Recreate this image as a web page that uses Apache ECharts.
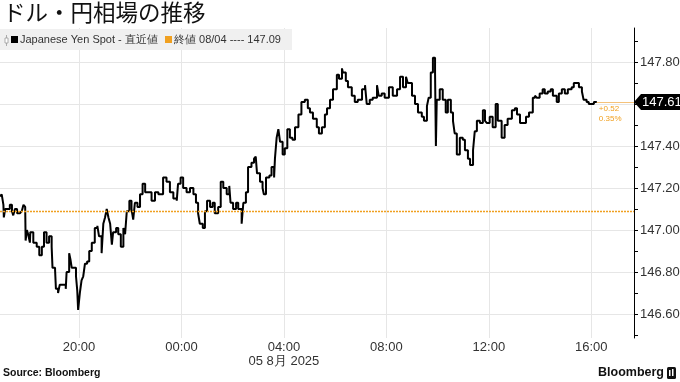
<!DOCTYPE html>
<html><head><meta charset="utf-8">
<script src="https://cdn.jsdelivr.net/npm/echarts@6/dist/echarts.min.js"></script>
<style>html,body{margin:0;padding:0;background:#fff}#c{width:680px;height:382px}</style>
</head><body><div id="c"></div>
<script>
// minutes since 2025-08-04 00:00 (Tokyo)
const times = [1015,1019,1023,1024,1027,1031,1038,1043,1046,1050,1055,1062,1066,1070,1074,1075,1078,1081,1085,1086,1093,1101,1107,1113,1118,1124,1130,1136,1138,1144,1146,1151,1155,1163,1169,1171,1177,1180,1183,1187,1193,1196,1198,1202,1206,1210,1214,1219,1224,1230,1237,1243,1247,1253,1257,1261,1265,1269,1273,1277,1280,1287,1292,1298,1304,1308,1312,1318,1323,1327,1331,1337,1343,1349,1355,1362,1370,1378,1386,1390,1397,1405,1413,1421,1429,1432,1438,1444,1452,1460,1468,1474,1479,1483,1490,1495,1500,1507,1513,1518,1526,1532,1538,1546,1552,1555,1561,1568,1573,1581,1585,1591,1596,1604,1610,1614,1617,1624,1630,1633,1638,1646,1651,1657,1659,1663,1667,1671,1677,1682,1688,1694,1700,1706,1714,1721,1729,1736,1741,1748,1757,1762,1769,1776,1781,1788,1795,1804,1809,1816,1818,1825,1830,1839,1846,1853,1863,1870,1874,1881,1888,1898,1902,1909,1916,1926,1935,1945,1952,1959,1966,1970,1980,1987,1994,2003,2008,2015,2019,2024,2029,2034,2036,2038,2045,2052,2059,2064,2071,2076,2080,2085,2092,2099,2104,2111,2116,2123,2127,2132,2139,2146,2151,2155,2162,2169,2176,2181,2190,2197,2204,2214,2221,2226,2233,2240,2247,2254,2263,2268,2272,2279,2286,2291,2298,2305,2310,2319,2324,2331,2338,2345,2354,2359,2366,2371,2378,2382,2389,2394,2401,2406,2413];
const values = [147.16,147.17,147.12,147.06,147.10,147.10,147.12,147.09,147.07,147.10,147.08,147.08,147.09,147.12,147.11,146.95,147.00,146.98,146.94,146.99,146.94,146.92,146.88,146.92,146.99,146.94,146.97,146.92,146.82,146.81,146.72,146.70,146.74,146.74,146.72,146.80,146.89,146.86,146.82,146.82,146.78,146.71,146.62,146.70,146.76,146.78,146.84,146.85,146.90,146.94,147.01,147.02,146.97,146.89,147.03,147.06,147.10,147.06,147.03,146.93,146.99,147.01,146.98,146.92,147.01,146.98,147.09,147.14,147.10,147.05,147.13,147.11,147.17,147.22,147.18,147.18,147.14,147.18,147.17,147.17,147.25,147.23,147.18,147.15,147.14,147.22,147.25,147.20,147.18,147.20,147.17,147.13,147.08,147.03,147.01,147.09,147.14,147.11,147.13,147.08,147.11,147.23,147.20,147.17,147.21,147.13,147.10,147.13,147.10,147.03,147.13,147.18,147.30,147.32,147.34,147.35,147.27,147.23,147.20,147.17,147.25,147.26,147.30,147.25,147.34,147.44,147.48,147.42,147.36,147.39,147.48,147.44,147.43,147.49,147.55,147.61,147.62,147.58,147.56,147.53,147.49,147.46,147.49,147.55,147.58,147.62,147.67,147.74,147.72,147.77,147.75,147.71,147.68,147.64,147.61,147.62,147.67,147.69,147.60,147.62,147.63,147.69,147.64,147.65,147.63,147.68,147.64,147.67,147.73,147.68,147.73,147.70,147.64,147.60,147.56,147.54,147.52,147.59,147.63,147.75,147.82,147.75,147.40,147.62,147.67,147.62,147.56,147.62,147.56,147.52,147.46,147.36,147.44,147.43,147.38,147.34,147.31,147.38,147.47,147.52,147.51,147.57,147.52,147.51,147.54,147.49,147.60,147.52,147.44,147.50,147.53,147.57,147.58,147.55,147.51,147.51,147.54,147.56,147.63,147.64,147.63,147.65,147.67,147.65,147.66,147.67,147.64,147.61,147.65,147.67,147.65,147.67,147.68,147.70,147.70,147.68,147.66,147.62,147.61,147.60,147.60,147.61,147.61];
const xTickValues = [1200, 1440, 1680, 1920, 2160, 2400];
const dateTickValue = 1680;
const dateLabel = '05 8月 2025';
const yGridValues = [146.6, 146.8, 147.0, 147.2, 147.4, 147.6, 147.8];
const yLabelValues = [146.6, 146.8, 147.0, 147.2, 147.4, 147.8];
const yMinorValues = [146.5,146.6,146.7,146.8,146.9,147.0,147.1,147.2,147.3,147.4,147.5,147.6,147.7,147.8,147.9];
const prevClose = 147.09;
const prevCloseDate = '08/04';
const lastValue = values[values.length - 1];
const xMin = 1015, xMax = 2500;
const yMin = 146.486, yMax = 147.962;
const titleText = 'ドル・円相場の推移';
const seriesName = 'Japanese Yen Spot - 直近値';

const chg = lastValue - prevClose;
const chgText = (chg >= 0 ? '+' : '') + chg.toFixed(2) + '\n' + (chg / prevClose * 100).toFixed(2) + '%';
const ORANGE = '#f0a020';
const LABEL_FONT = 'Liberation Sans, Arial, sans-serif';

function fmtTime(m) {
  const mm = ((m % 1440) + 1440) % 1440;
  const h = Math.floor(mm / 60), mi = mm % 60;
  return String(h).padStart(2, '0') + ':' + String(mi).padStart(2, '0');
}

const chart = echarts.init(document.getElementById('c'), null, {renderer: 'canvas'});

const baseGraphic = [
  {type: 'text', left: 3, top: 1, style: {text: titleText, font: '400 22.5px "Noto Sans CJK JP", sans-serif', fill: '#111'}},
  {type: 'rect', shape: {x: 0, y: 29, width: 292, height: 21}, style: {fill: '#f0f0f0'}, z: 10},
  {type: 'rect', shape: {x: 5, y: 38, width: 3, height: 5}, style: {fill: '#fff', stroke: '#999', lineWidth: 0.8}, z: 11},
  {type: 'line', shape: {x1: 6.5, y1: 35, x2: 6.5, y2: 46}, style: {stroke: '#999', lineWidth: 0.8}, z: 10.5},
  {type: 'rect', shape: {x: 11, y: 36, width: 7, height: 7}, style: {fill: '#000'}, z: 11},
  {type: 'text', x: 20, y: 40, style: {text: seriesName, font: '11px ' + LABEL_FONT, fill: '#333', verticalAlign: 'middle'}, z: 11},
  {type: 'rect', shape: {x: 165, y: 36, width: 7, height: 7}, style: {fill: ORANGE}, z: 11},
  {type: 'text', x: 174, y: 40, style: {text: '終値 ' + prevCloseDate + ' ---- ' + prevClose.toFixed(2), font: '11px ' + LABEL_FONT, fill: '#333', verticalAlign: 'middle'}, z: 11},
  {type: 'text', x: 3, y: 373, style: {text: 'Source: Bloomberg', font: 'bold 10.5px ' + LABEL_FONT, fill: '#111', verticalAlign: 'middle'}},
  {type: 'text', x: 598, y: 373, style: {text: 'Bloomberg', font: 'bold 12.5px ' + LABEL_FONT, fill: '#111', verticalAlign: 'middle'}},
  {type: 'rect', shape: {x: 667, y: 367, width: 9, height: 12, r: 1.5}, style: {fill: '#111'}},
  {type: 'rect', shape: {x: 669, y: 370, width: 1.5, height: 6}, style: {fill: '#fff'}},
  {type: 'rect', shape: {x: 672, y: 369, width: 1.5, height: 7}, style: {fill: '#fff'}}
];

chart.setOption({
  animation: false,
  grid: {left: 0, right: 46, top: 28, bottom: 44, containLabel: false, outerBoundsMode: 'none'},
  xAxis: {
    type: 'value', min: xMin, max: xMax,
    axisLine: {show: false},
    axisTick: {show: false, customValues: xTickValues},
    axisLabel: {
      customValues: xTickValues, margin: 2, color: '#333', fontSize: 13, fontFamily: LABEL_FONT, lineHeight: 14,
      formatter: v => v === dateTickValue ? fmtTime(v) + '\n' + dateLabel : fmtTime(v)
    },
    splitLine: {show: true, lineStyle: {color: '#e6e6e6', width: 1}}
  },
  yAxis: [
    {
      type: 'value', position: 'right', min: yMin, max: yMax,
      axisLine: {show: true, lineStyle: {color: '#000', width: 1}},
      axisTick: {show: false, customValues: yGridValues},
      axisLabel: {customValues: yLabelValues, margin: 6, color: '#333', fontSize: 13, fontFamily: LABEL_FONT, formatter: v => v.toFixed(2)},
      splitLine: {show: true, lineStyle: {color: '#e6e6e6', width: 1}}
    },
    {
      type: 'value', position: 'right', offset: 0, min: yMin, max: yMax,
      axisLine: {show: false},
      axisTick: {show: true, customValues: yMinorValues, length: 4, lineStyle: {color: '#000', width: 1}},
      axisLabel: {show: false},
      splitLine: {show: false}
    }
  ],
  series: [{
    type: 'line', name: seriesName,
    data: times.map((t, i) => [t, values[i]]),
    showSymbol: false, step: 'end',
    lineStyle: {color: '#000', width: 2},
    z: 3,
    markLine: {
      silent: true, symbol: 'none', animation: false,
      data: [
        {yAxis: prevClose, lineStyle: {color: ORANGE, type: [2, 1], width: 1.3, opacity: 1}, label: {show: false}},
        [
          {coord: [times[times.length - 1], lastValue], lineStyle: {color: '#f5c27a', type: 'solid', width: 1},
           label: {show: true, position: 'insideStartBottom', formatter: chgText, color: ORANGE, fontSize: 8, lineHeight: 10, fontFamily: LABEL_FONT, distance: [2, 2]}},
          {coord: [xMax, lastValue]}
        ]
      ]
    }
  }],
  graphic: baseGraphic
});

const p = chart.convertToPixel({gridIndex: 0}, [xMax, lastValue]);
const px = p[0], py = p[1];
chart.setOption({
  graphic: baseGraphic.concat([
    {type: 'polygon', shape: {points: [[px, py], [px + 7, py - 8], [680, py - 8], [680, py + 8], [px + 7, py + 8]]}, style: {fill: '#000'}, z: 20},
    {type: 'text', x: px + 8, y: py, style: {text: lastValue.toFixed(2), font: '13px ' + LABEL_FONT, fill: '#fff', verticalAlign: 'middle'}, z: 21}
  ])
});
</script>
</body></html>
